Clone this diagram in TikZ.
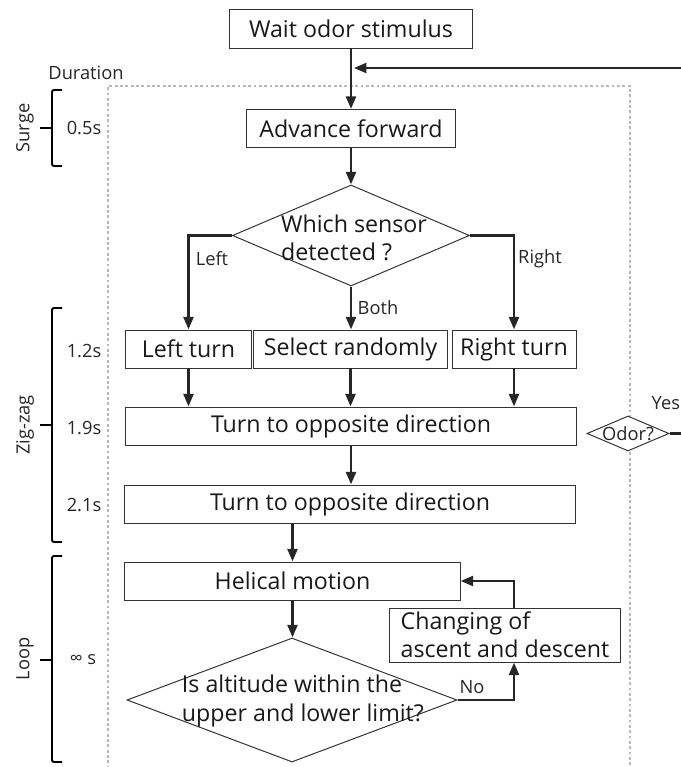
\documentclass[tikz,border=0pt]{standalone}
\usepackage{fontspec}
\setmainfont{Open Sans}
\usetikzlibrary{shapes.geometric,arrows.meta,calc}

\begin{document}
\begin{tikzpicture}[x=0.025cm,y=-0.025cm]
    \tikzstyle{flow}=[line width=2pt,draw=black!85,-{Triangle[length=9pt,width=7pt]}]
    \tikzstyle{wire}=[line width=2pt,draw=black!85]
    \tikzstyle{box}=[draw=black!80,line width=0.7pt,inner sep=0pt,minimum height=0.95cm,text=black!90,font=\fontsize{16.5}{20}\selectfont]
    \tikzstyle{decision}=[diamond,draw=black!80,line width=0.7pt,inner sep=0pt,fill=white]
    \tikzstyle{big}=[text=black!90,font=\fontsize{16.5}{20}\selectfont]
    \tikzstyle{small}=[text=black!85,font=\fontsize{13}{15}\selectfont]
    \tikzstyle{brace}=[line width=1.4pt,black,rounded corners=1.5pt]
    \useasboundingbox (0,0) rectangle (681,767);
    % duration frame
    \draw[gray!55,line width=1.3pt,dash pattern=on 2pt off 1.8pt] (108,790) -- (108,86) -- (630,86) -- (630,790);
    % start and surge
    \node[box,minimum width=6.05cm] (wait) at (351,29) {Wait odor stimulus};
    \node[box,minimum width=5.2cm] (advance) at (351,128.5) {Advance forward};
    \node[decision,minimum width=5.925cm,minimum height=2.525cm] (sensor) at (351,235.5) {};
    \node[big,align=left] (sensortext) at (354,238) {Which sensor\\detected ?};
    % zig-zag
    \node[box,minimum width=3.125cm] (leftturn) at (188.5,349) {Left turn};
    \node[box,minimum width=4.825cm] (randomly) at (350.5,349) {Select randomly};
    \node[box,minimum width=3.1cm] (rightturn) at (514,349) {Right turn};
    \node[box,minimum width=11.25cm] (opposite1) at (351,426) {Turn to opposite direction};
    \node[box,minimum width=11.25cm] (opposite2) at (350,504) {Turn to opposite direction};
    % loop
    \node[box,minimum width=8.375cm] (helical) at (292.5,581) {Helical motion};
    \node[decision,minimum width=8.25cm,minimum height=3.1cm] (altitude) at (292,700) {};
    \node[big,anchor=west,align=left] (altitudetext) at (177,701) {Is altitude within the\\upper and lower limit?};
    \node[box,minimum width=5.75cm,minimum height=1.35cm,align=left] (ascent) at (505,635) {Changing of\\ascent and descent};
    % odor check on the frame
    \node[decision,minimum width=2.05cm,minimum height=0.875cm] (odor) at (628,433.5) {};
    \node[small] (odortext) at (628,434) {Odor?};
    \coordinate (yesout) at (681,433.5);
    \coordinate (backin) at (681,68);
    % labels
    \node[small] (duration) at (86,73) {Duration};
    \node[small,rotate=90] (surge) at (25,128) {Surge};
    \node[small,rotate=90] (zigzag) at (25,425) {Zig-zag};
    \node[small,rotate=90] (loop) at (25,659) {Loop};
    \node[small] (t05) at (84,128) {0.5s};
    \node[small] (t12) at (84,351) {1.2s};
    \node[small] (t19) at (84,428) {1.9s};
    \node[small] (t21) at (84,505) {2.1s};
    \node[small] (tinf) at (83,660) {∞ s};
    \node[small] (leftlbl) at (212,259) {Left};
    \node[small] (rightlbl) at (540,259) {Right};
    \node[small] (bothlbl) at (378,308) {Both};
    \node[small] (nolbl) at (472,687) {No};
    \node[small,anchor=west,inner sep=1pt] (yeslbl) at (650,403) {Yes};
    % brackets
    \draw[brace] (62,90) -- (52,90) -- (52,166) -- (62,166);
    \draw[brace] (52,128) -- (40,128);
    \draw[brace] (62,308) -- (52,308) -- (52,542) -- (62,542);
    \draw[brace] (52,425) -- (40,425);
    \draw[brace] (62,556) -- (52,556) -- (52,762) -- (62,762);
    \draw[brace] (52,660) -- (40,660);
    % connectors
    \draw[flow] (wait.south) -- (advance.north);
    \draw[flow,shorten >=2pt] (backin) -- (backin -| wait.south);
    \draw[flow] (advance.south) -- (sensor.north);
    \draw[flow] (sensor.west) -| (leftturn.north);
    \draw[flow] (sensor.east) -| (rightturn.north);
    \draw[flow] (sensor.south) -- (sensor.south |- randomly.north);
    \draw[flow] (leftturn.south) -- (leftturn.south |- opposite1.north);
    \draw[flow] (randomly.south) -- (randomly.south |- opposite1.north);
    \draw[flow] (rightturn.south) -- (rightturn.south |- opposite1.north);
    \draw[flow] (opposite1.south) -- (opposite1.south |- opposite2.north);
    \draw[flow] (helical.north |- opposite2.south) -- (helical.north);
    \draw[flow] (helical.south) -- (helical.south |- altitude.north);
    \draw[flow] (altitude.east) -| ($(ascent.south)+(9,0)$);
    \draw[flow] ($(ascent.north)+(9,0)$) |- (helical.east);
    \draw[wire] (odor.east) -- (yesout);
\end{tikzpicture}
\end{document}
